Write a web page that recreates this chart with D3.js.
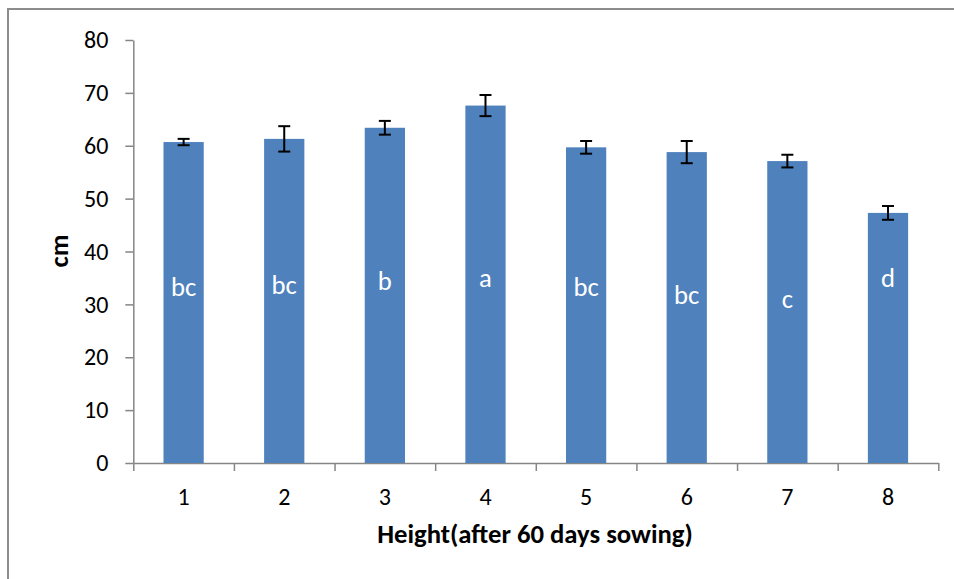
<!DOCTYPE html>
<html>
<head>
<meta charset="utf-8">
<script src="https://cdn.jsdelivr.net/npm/d3@7"></script>
<style>
body { margin: 0; background: #fff; }
text { font-family: Carlito, Calibri, "Open Sans", sans-serif; }
</style>
</head>
<body>
<script>
// data
var categories = ['1', '2', '3', '4', '5', '6', '7', '8'];
var heights = [60.7, 61.3, 63.4, 67.6, 59.7, 58.8, 57.1, 47.3];
var errors = [0.6, 2.4, 1.3, 2.0, 1.2, 2.1, 1.2, 1.3];
var letters = ['bc', 'bc', 'b', 'a', 'bc', 'bc', 'c', 'd'];
var letterY = [31.6, 31.9, 32.7, 33.2, 31.6, 30.0, 29.3, 33.2]; // baseline of the letter, in cm
var yTicks = [0, 10, 20, 30, 40, 50, 60, 70, 80];

var width = 954, height = 579;
var plotLeft = 133.3, plotRight = 938.3, plotTop = 40, plotBottom = 463;
var fam = 'Carlito, Calibri, "Open Sans", sans-serif';

var svg = d3.select('body').append('svg').attr('width', width).attr('height', height);

svg.append('rect').attr('width', width).attr('height', height).attr('fill', '#fff');

// outer frame (left + top only visible)
svg.append('path')
	.attr('d', 'M8,' + height + 'V9H' + width)
	.attr('fill', 'none')
	.attr('stroke', '#8c8c8c')
	.attr('stroke-width', 2);

var y = d3.scaleLinear().domain([0, 80]).range([plotBottom, plotTop]);
var x = d3.scaleBand().domain(categories).range([plotLeft, plotRight]).padding(0);
var xEdge = d3.scaleLinear().domain([0, categories.length]).range([plotLeft, plotRight]);

// y axis
var yAxis = svg.append('g').attr('transform', 'translate(' + plotLeft + ',0)')
	.call(d3.axisLeft(y).tickValues(yTicks).tickSize(8).tickPadding(17).tickSizeOuter(0));
yAxis.select('.domain').attr('stroke', '#868686').attr('stroke-width', 1.5);
yAxis.selectAll('.tick line').attr('stroke', '#868686').attr('stroke-width', 1.5);
yAxis.selectAll('.tick text').attr('fill', '#000').style('font-size', '24px').style('font-family', fam);

// x axis: ticks at category edges, labels at centres
var xAxis = svg.append('g').attr('transform', 'translate(0,' + plotBottom + ')')
	.call(d3.axisBottom(xEdge).tickValues(d3.range(categories.length + 1)).tickSize(8).tickSizeOuter(0).tickFormat(''));
xAxis.select('.domain').attr('stroke', '#868686').attr('stroke-width', 1.5);
xAxis.selectAll('.tick line').attr('stroke', '#868686').attr('stroke-width', 1.5);

svg.append('g').selectAll('text').data(categories).enter().append('text')
	.attr('x', function(d){ return x(d) + x.bandwidth() / 2; })
	.attr('y', plotBottom + 42)
	.attr('text-anchor', 'middle')
	.attr('fill', '#000')
	.style('font-size', '24px')
	.text(function(d){ return d; });

// bars
var bw = x.bandwidth() * 0.4;
svg.append('g').selectAll('rect').data(heights).enter().append('rect')
	.attr('x', function(d, i){ return x(categories[i]) + (x.bandwidth() - bw) / 2; })
	.attr('y', function(d){ return y(d); })
	.attr('width', bw)
	.attr('height', function(d){ return y(0) - y(d); })
	.attr('fill', '#4f81bd');

// error bars
var eb = svg.append('g').attr('stroke', '#000').attr('stroke-width', 2);
heights.forEach(function(v, i){
	var cx = x(categories[i]) + x.bandwidth() / 2;
	var hi = y(v + errors[i]), lo = y(v - errors[i]);
	eb.append('line').attr('x1', cx).attr('x2', cx).attr('y1', hi).attr('y2', lo);
	eb.append('line').attr('x1', cx - 6).attr('x2', cx + 6).attr('y1', hi).attr('y2', hi);
	eb.append('line').attr('x1', cx - 6).attr('x2', cx + 6).attr('y1', lo).attr('y2', lo);
});

// significance letters
svg.append('g').selectAll('text').data(letters).enter().append('text')
	.attr('x', function(d, i){ return x(categories[i]) + x.bandwidth() / 2; })
	.attr('y', function(d, i){ return y(letterY[i]); })
	.attr('text-anchor', 'middle')
	.attr('fill', '#fff')
	.style('font-size', '26.7px')
	.text(function(d){ return d; });

// axis titles
svg.append('text')
	.attr('transform', 'translate(68,251) rotate(-90)')
	.attr('text-anchor', 'middle')
	.attr('fill', '#000')
	.style('font-size', '26.7px')
	.style('font-weight', 'bold')
	.text('cm');

svg.append('text')
	.attr('x', (377 + 693) / 2)
	.attr('y', 543)
	.attr('text-anchor', 'middle')
	.attr('fill', '#000')
	.style('font-size', '26.7px')
	.style('font-weight', 'bold')
	.text('Height(after 60 days sowing)');
</script>
</body>
</html>
